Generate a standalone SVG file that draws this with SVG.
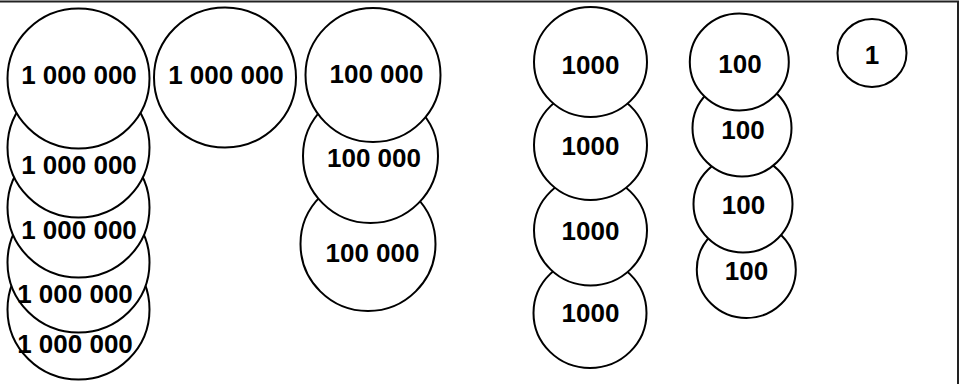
<svg xmlns="http://www.w3.org/2000/svg" width="962" height="384" viewBox="0 0 962 384">
<style>
.c{fill:#fff;stroke:#000;stroke-width:2}
.t{font-family:"Liberation Sans",Arial,sans-serif;font-weight:700;font-size:26px;text-anchor:middle;fill:#000}
.f{fill:none;stroke:#222;stroke-width:2}
</style>
<rect width="962" height="384" fill="#fff"/>
<path class="f" d="M-2 1.5 H958 V386"/>
<g id="m5"><ellipse class="c" cx="78.5" cy="309.5" rx="71" ry="70"/><text class="t" x="75" y="353">1 000 000</text></g>
<g id="m4"><ellipse class="c" cx="78.5" cy="262.5" rx="71" ry="70"/><text class="t" x="75" y="303">1 000 000</text></g>
<g id="m3"><ellipse class="c" cx="78.5" cy="207.5" rx="71" ry="70"/><text class="t" x="79" y="239">1 000 000</text></g>
<g id="m2"><ellipse class="c" cx="78.5" cy="147.5" rx="71" ry="70"/><text class="t" x="79" y="174">1 000 000</text></g>
<g id="m1"><ellipse class="c" cx="78.5" cy="78.5" rx="71" ry="70"/><text class="t" x="79" y="84">1 000 000</text></g>
<g id="m6"><ellipse class="c" cx="225" cy="77.5" rx="71" ry="70"/><text class="t" x="226" y="84">1 000 000</text></g>
<g id="h3"><ellipse class="c" cx="368" cy="244" rx="67.5" ry="67"/><text class="t" x="372.5" y="262">100 000</text></g>
<g id="h2"><ellipse class="c" cx="370.5" cy="156" rx="67.5" ry="67"/><text class="t" x="374" y="167">100 000</text></g>
<g id="h1"><ellipse class="c" cx="373" cy="75" rx="67.5" ry="67"/><text class="t" x="376.5" y="83">100 000</text></g>
<g id="k4"><ellipse class="c" cx="590" cy="313" rx="56.5" ry="55"/><text class="t" x="590.5" y="322">1000</text></g>
<g id="k3"><ellipse class="c" cx="590.5" cy="230.5" rx="56.5" ry="55"/><text class="t" x="590.5" y="240">1000</text></g>
<g id="k2"><ellipse class="c" cx="590.5" cy="145" rx="56.5" ry="55"/><text class="t" x="590.5" y="155">1000</text></g>
<g id="k1"><ellipse class="c" cx="590.5" cy="62" rx="56.5" ry="55"/><text class="t" x="590.5" y="74">1000</text></g>
<g id="c4"><ellipse class="c" cx="746.3" cy="269.5" rx="49.5" ry="48.5"/><text class="t" x="746.5" y="280">100</text></g>
<g id="c3"><ellipse class="c" cx="743" cy="204" rx="49.5" ry="48.5"/><text class="t" x="743.5" y="214">100</text></g>
<g id="c2"><ellipse class="c" cx="742" cy="128" rx="49.5" ry="48.5"/><text class="t" x="743" y="139">100</text></g>
<g id="c1"><ellipse class="c" cx="739.3" cy="62" rx="49.5" ry="48.5"/><text class="t" x="740" y="73">100</text></g>
<g id="u1"><ellipse class="c" cx="872" cy="53" rx="34.5" ry="34"/><text class="t" x="872" y="64">1</text></g>
</svg>
